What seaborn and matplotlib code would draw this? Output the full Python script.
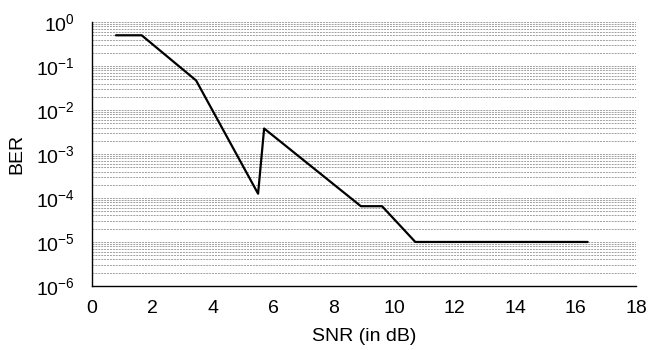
import numpy as np
import pandas as pd
import matplotlib
matplotlib.use("Agg")
import matplotlib.pyplot as plt
import matplotlib.ticker as mticker
import seaborn as sns

# data
snr = [0.8, 1.65, 3.45, 5.5, 5.7, 8.9, 9.6, 10.7, 16.4]
ber = [0.5, 0.5, 0.047, 1.25e-4, 3.8e-3, 6.5e-5, 6.5e-5, 1.0e-5, 1.0e-5]
x_ticks = [0, 2, 4, 6, 8, 10, 12, 14, 16, 18]

df = pd.DataFrame({"SNR": snr, "BER": ber})

sns.set_style("white")
plt.rcParams["font.family"] = ["Liberation Sans", "DejaVu Sans"]
plt.rcParams["mathtext.fontset"] = "custom"
plt.rcParams["mathtext.rm"] = "Liberation Sans"
plt.rcParams["mathtext.it"] = "Liberation Sans"
plt.rcParams["axes.unicode_minus"] = False
for k in ["text.color", "axes.labelcolor", "xtick.color", "ytick.color"]:
    plt.rcParams[k] = "black"

fig = plt.figure(figsize=(6.51, 3.5), dpi=100)
ax = fig.add_axes([0.141, 0.183, 0.836, 0.754])

sns.lineplot(data=df, x="SNR", y="BER", color="black", linewidth=1.6, ax=ax,
             sort=False, estimator=None)

ax.set_yscale("log")
ax.set_ylim(1e-6, 1)
ax.set_xlim(0, 18)
ax.set_xticks(x_ticks)
ax.yaxis.set_major_locator(mticker.LogLocator(base=10, numticks=10))
ax.yaxis.set_minor_locator(mticker.LogLocator(base=10, subs=np.arange(2, 10), numticks=20))
ax.yaxis.set_minor_formatter(mticker.NullFormatter())
ax.yaxis.set_major_formatter(mticker.FuncFormatter(
    lambda v, pos: r"$\mathregular{10^{%d}}$" % round(np.log10(v))))

# dashed grey grid at every decade and sub-decade
ax.grid(True, which="both", axis="y", linestyle=(0, (2, 1)), color="#a0a0a0", linewidth=0.7)
ax.set_axisbelow(True)

for s in ["top", "right"]:
    ax.spines[s].set_visible(False)
for s in ["left", "bottom"]:
    ax.spines[s].set_color("black")
    ax.spines[s].set_linewidth(1.0)

ax.tick_params(axis="x", direction="in", length=3, labelsize=14, pad=10, color="black")
ax.tick_params(axis="y", which="both", direction="in", length=0, labelsize=14, pad=12)

ax.set_xlabel("SNR (in dB)", fontsize=14, labelpad=8)
ax.set_ylabel("BER", fontsize=14, labelpad=8)

fig.savefig("out.png", dpi=100)
